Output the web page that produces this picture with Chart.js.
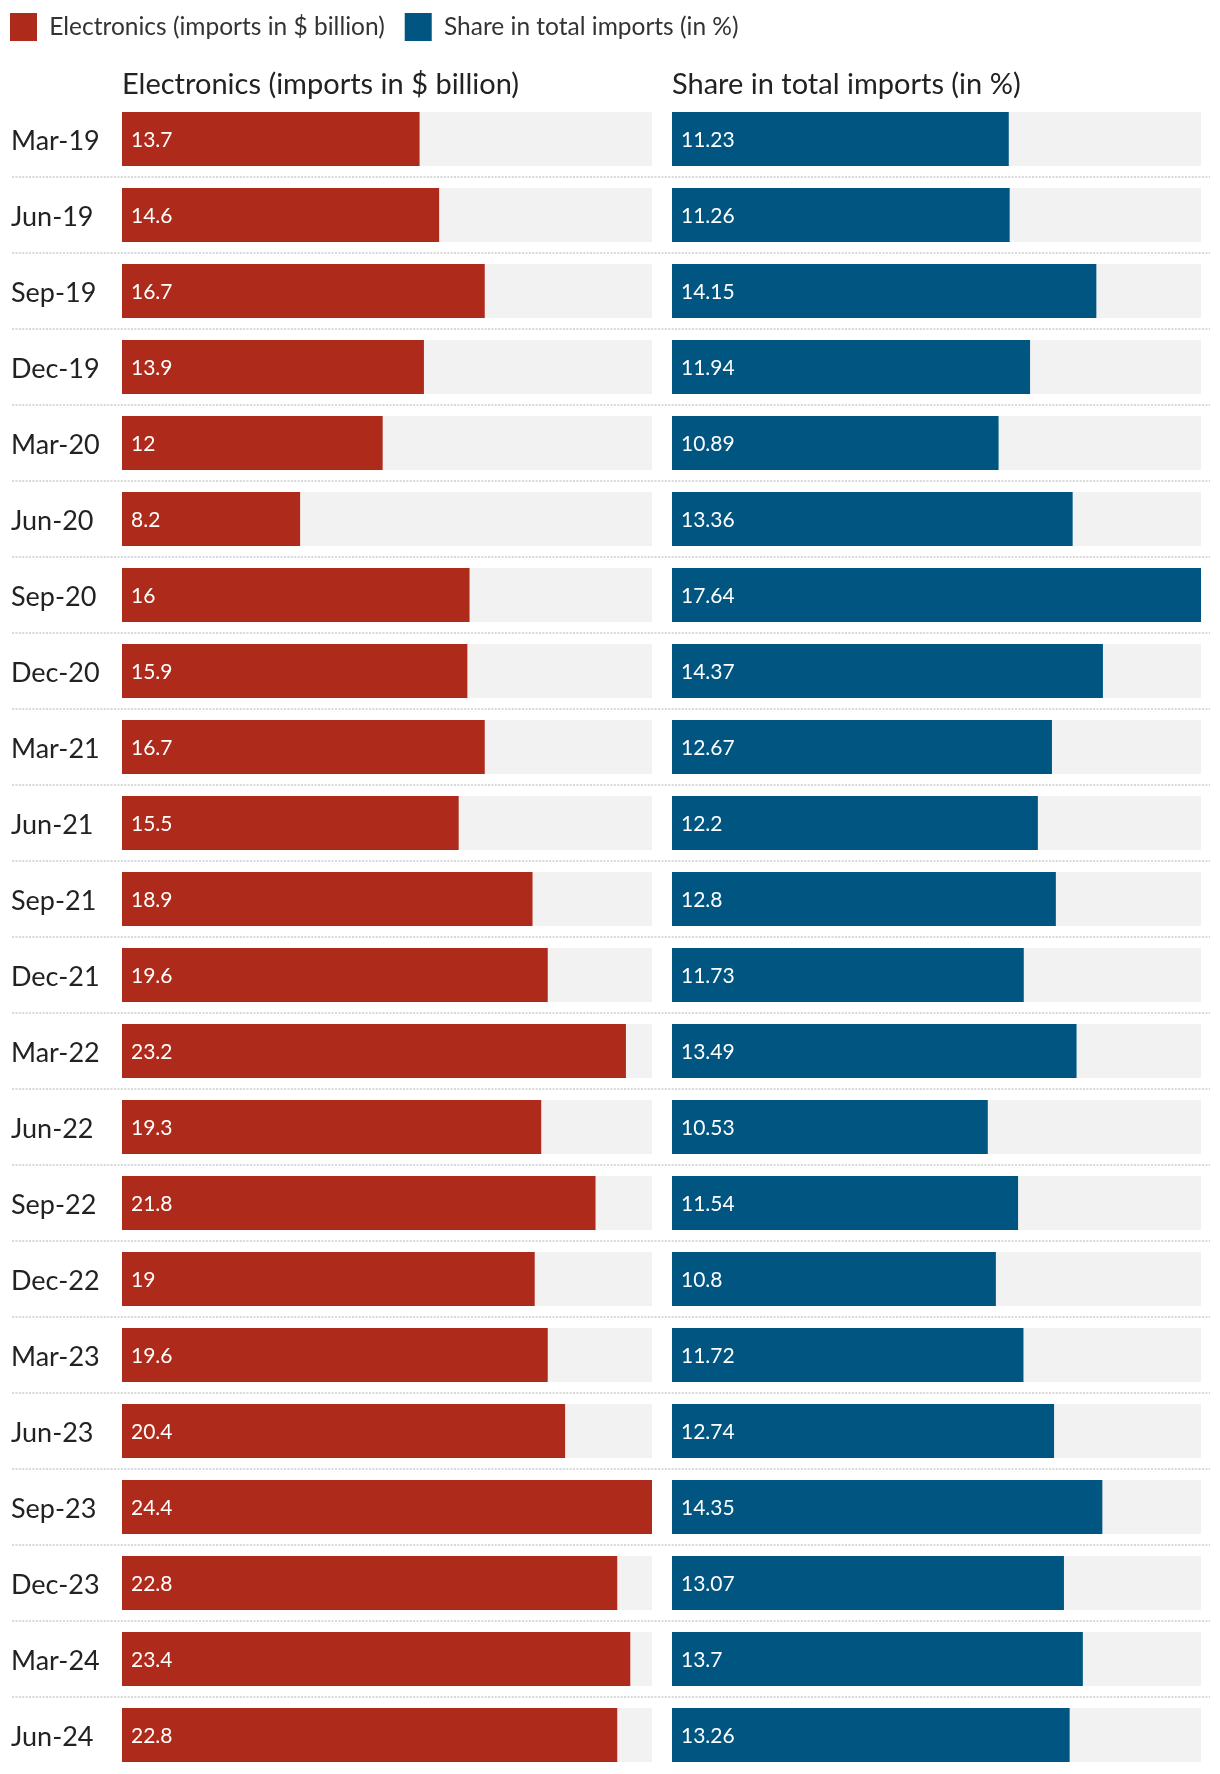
<!DOCTYPE html>
<html>
<head>
<meta charset="utf-8">
<title>Electronics imports</title>
<script src="https://cdn.jsdelivr.net/npm/chart.js@4.4.1/dist/chart.umd.min.js"></script>
<style>
  body { margin: 0; background: #fff; }
  #wrap { width: 1220px; height: 1774px; position: relative; }
</style>
</head>
<body>
<div id="wrap"><canvas id="chart"></canvas></div>
<script>
var quarters = ['Mar-19', 'Jun-19', 'Sep-19', 'Dec-19', 'Mar-20', 'Jun-20', 'Sep-20', 'Dec-20',
                'Mar-21', 'Jun-21', 'Sep-21', 'Dec-21', 'Mar-22', 'Jun-22', 'Sep-22', 'Dec-22',
                'Mar-23', 'Jun-23', 'Sep-23', 'Dec-23', 'Mar-24', 'Jun-24'];

var electronics = [13.7, 14.6, 16.7, 13.9, 12, 8.2, 16, 15.9, 16.7, 15.5, 18.9,
                   19.6, 23.2, 19.3, 21.8, 19, 19.6, 20.4, 24.4, 22.8, 23.4, 22.8];

var share = [11.23, 11.26, 14.15, 11.94, 10.89, 13.36, 17.64, 14.37, 12.67, 12.2, 12.8,
             11.73, 13.49, 10.53, 11.54, 10.8, 11.72, 12.74, 14.35, 13.07, 13.7, 13.26];

var electronicsLabel = 'Electronics (imports in $ billion)';
var shareLabel = 'Share in total imports (in %)';

var RED = '#ae2a1a', BLUE = '#005581', TRACK = '#f2f2f2', INK = '#222';
var FONT = 'Lato, "Noto Sans", sans-serif';

// grey track behind every bar, as wide as the bar's own axis
var trackPlugin = {
    id: 'tracks',
    beforeDatasetsDraw: function (chart) {
        var ctx = chart.ctx;
        ctx.save();
        ctx.fillStyle = TRACK;
        chart.data.datasets.forEach(function (ds, i) {
            var xs = chart.scales[ds.xAxisID];
            chart.getDatasetMeta(i).data.forEach(function (bar) {
                ctx.fillRect(xs.left, bar.y - bar.height / 2, xs.right - xs.left, bar.height);
            });
        });
        ctx.restore();
    }
};

// dotted rule between rows, running under the labels too
var rulePlugin = {
    id: 'rules',
    beforeDatasetsDraw: function (chart) {
        var ctx = chart.ctx, ys = chart.scales.y;
        ctx.save();
        ctx.strokeStyle = '#d9d9d9';
        ctx.lineWidth = 2;
        ctx.setLineDash([2, 1.4]);
        for (var i = 0; i < quarters.length - 1; i++) {
            var y = Math.round((ys.getPixelForValue(i) + ys.getPixelForValue(i + 1)) / 2);
            ctx.beginPath();
            ctx.moveTo(12, y);
            ctx.lineTo(chart.width - 10, y);
            ctx.stroke();
        }
        ctx.restore();
    }
};

// value written in white at the start of each bar
var valuePlugin = {
    id: 'values',
    afterDatasetsDraw: function (chart) {
        var ctx = chart.ctx;
        ctx.save();
        ctx.fillStyle = '#fff';
        ctx.font = '21px ' + FONT;
        ctx.textAlign = 'left';
        ctx.textBaseline = 'middle';
        chart.data.datasets.forEach(function (ds, i) {
            chart.getDatasetMeta(i).data.forEach(function (bar, j) {
                ctx.fillText(String(ds.data[j]), bar.base + 9, bar.y + 1);
            });
        });
        ctx.restore();
    }
};

// pull the legend to the page edge
var legendNudge = {
    id: 'legendNudge',
    afterLayout: function (chart) {
        var lg = chart.legend;
        lg.left -= 21; lg.right -= 21;
        lg.top -= 7; lg.bottom -= 7;
    }
};

function columnAxis(title, max, weight, stackWeight) {
    return {
        type: 'linear',
        position: 'top',
        stack: 'cols',
        stackWeight: stackWeight,
        weight: weight,
        min: 0,
        max: max,
        grid: { display: false },
        border: { display: false },
        ticks: { display: false },
        title: {
            display: true,
            text: title,
            align: 'start',
            color: INK,
            font: { family: FONT, size: 29 },
            padding: { top: 9, bottom: 0 }
        },
        afterFit: function (s) { s.height = 43; }
    };
}

new Chart(document.getElementById('chart'), {
    type: 'bar',
    data: {
        labels: quarters,
        datasets: [{
            label: electronicsLabel,
            data: electronics,
            xAxisID: 'xRed',
            backgroundColor: RED,
            grouped: false,
            categoryPercentage: 1,
            barPercentage: 0.71
        }, {
            label: shareLabel,
            data: share,
            xAxisID: 'xBlue',
            backgroundColor: BLUE,
            grouped: false,
            categoryPercentage: 1,
            barPercentage: 0.71
        }]
    },
    options: {
        indexAxis: 'y',
        responsive: true,
        maintainAspectRatio: false,
        animation: false,
        layout: { padding: { left: 11, right: 19, top: 0, bottom: 1 } },
        scales: {
            y: {
                grid: { display: false },
                border: { display: false },
                ticks: {
                    crossAlign: 'far',
                    labelOffset: 2,
                    color: INK,
                    font: { family: FONT, size: 27 }
                },
                afterFit: function (s) {
                    s.width = 111;
                    // labels sit inside their rows, no extra room needed
                    s.paddingTop = 0;
                    s.paddingBottom = 0;
                }
            },
            xRed: columnAxis(electronicsLabel, Math.max.apply(null, electronics), 3, 530),
            xGap: { type: 'linear', position: 'top', stack: 'cols', stackWeight: 20, weight: 2, display: false },
            xBlue: columnAxis(shareLabel, Math.max.apply(null, share), 1, 529)
        },
        plugins: {
            legend: {
                position: 'top',
                align: 'start',
                labels: {
                    boxWidth: 27,
                    boxHeight: 28,
                    padding: 20,
                    color: '#333',
                    font: { family: FONT, size: 24.5 }
                }
            },
            tooltip: { enabled: false }
        }
    },
    plugins: [trackPlugin, rulePlugin, valuePlugin, legendNudge]
});
</script>
</body>
</html>
